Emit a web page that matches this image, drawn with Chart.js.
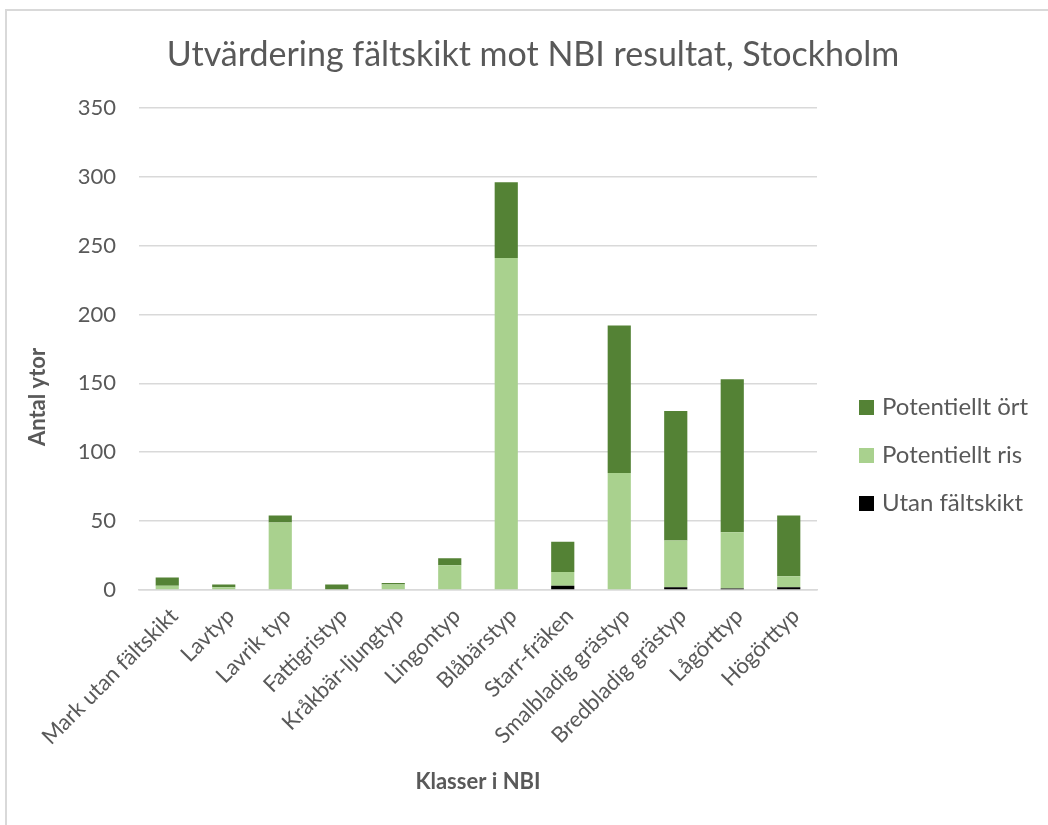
<!DOCTYPE html>
<html>
<head>
<meta charset="utf-8">
<script src="https://cdn.jsdelivr.net/npm/chart.js@4"></script>
<style>
  body { margin: 0; background: #fff; }
  #frame {
    position: absolute; left: 5px; top: 9px; width: 1043px; height: 816px;
    border-top: 2px solid #d9d9d9; border-left: 2px solid #d9d9d9;
  }
  #wrap { position: absolute; left: 0; top: 0; width: 1048px; height: 825px; }
</style>
</head>
<body>
<div id="frame"></div>
<div id="wrap"><canvas id="nbiChart" width="1048" height="825"></canvas></div>
<script>
const categories = ["Mark utan fältskikt", "Lavtyp", "Lavrik typ", "Fattigristyp", "Kråkbär-ljungtyp",
  "Lingontyp", "Blåbärstyp", "Starr-fräken", "Smalbladig grästyp", "Bredbladig grästyp", "Lågörttyp", "Högörttyp"];
const utanFaltskikt = [0, 0, 0, 0, 0, 0, 0, 3, 0, 2, 1, 2];
const potentielltRis = [3, 2, 49, 0, 4, 18, 241, 10, 85, 34, 41, 8];
const potentielltOrt = [6, 2, 5, 4, 1, 5, 55, 22, 107, 94, 111, 44];
const yTicks = [0, 50, 100, 150, 200, 250, 300, 350];

const textColor = "#595959";
const gridColor = "#d9d9d9";
const fontFamily = "Lato, 'Open Sans', sans-serif";

// legend and y axis title drawn by hand so they sit where Excel put them
const sideTexts = {
  id: "sideTexts",
  afterDraw(chart) {
    const ctx = chart.ctx;
    const items = chart.data.datasets.slice().reverse();
    ctx.save();
    ctx.font = "24px " + fontFamily;
    ctx.textBaseline = "middle";
    ctx.textAlign = "left";
    items.forEach((ds, i) => {
      const y = 407 + i * 48;
      ctx.fillStyle = ds.backgroundColor;
      ctx.fillRect(859, y - 7, 15, 15);
      ctx.fillStyle = textColor;
      ctx.fillText(ds.label, 882, y);
    });

    ctx.translate(38, 397);
    ctx.rotate(-Math.PI / 2);
    ctx.textAlign = "center";
    ctx.font = "bold 22px " + fontFamily;
    ctx.fillStyle = textColor;
    ctx.fillText("Antal ytor", 0, 0);
    ctx.restore();
  }
};

new Chart(document.getElementById("nbiChart"), {
  type: "bar",
  data: {
    labels: categories,
    datasets: [
      { label: "Utan fältskikt", data: utanFaltskikt, backgroundColor: "#000000" },
      { label: "Potentiellt ris", data: potentielltRis, backgroundColor: "#a9d18e" },
      { label: "Potentiellt ört", data: potentielltOrt, backgroundColor: "#548235" }
    ]
  },
  options: {
    responsive: false,
    animation: false,
    layout: { padding: { left: 18, right: 0, top: 0, bottom: 0 } },
    datasets: { bar: { barPercentage: 1, categoryPercentage: 0.41 } },
    plugins: {
      legend: { display: false },
      tooltip: { enabled: false },
      title: {
        display: true,
        text: "Utvärdering fältskikt mot NBI resultat, Stockholm",
        color: textColor,
        font: { family: fontFamily, size: 34, weight: "normal" },
        padding: { top: 35, bottom: 32 }
      }
    },
    scales: {
      x: {
        stacked: true,
        grid: { display: false, drawTicks: false },
        border: { display: true, color: gridColor, width: 1.5 },
        ticks: {
          color: textColor, font: { family: fontFamily, size: 22 },
          maxRotation: 45, minRotation: 45, autoSkip: false,
          padding: 13, labelOffset: 7
        },
        title: {
          display: true, text: "Klasser i NBI", color: textColor,
          font: { family: fontFamily, size: 22, weight: "bold" },
          padding: { top: 0, bottom: 30 }
        },
        afterFit(scale) { scale.height = 235; }
      },
      y: {
        stacked: true,
        min: 0, max: 350,
        grid: { color: gridColor, lineWidth: 1.5, drawTicks: false },
        border: { display: false },
        afterBuildTicks(scale) { scale.ticks = yTicks.map(v => ({ value: v })); },
        ticks: { color: textColor, font: { family: fontFamily, size: 22 }, padding: 23 },
        afterFit(scale) { scale.width = 121; }
      },
      // empty right-hand strip where the legend lives
      legendSpace: {
        type: "linear",
        position: "right",
        display: true,
        grid: { display: false },
        border: { display: false },
        ticks: { display: false },
        afterFit(scale) { scale.width = 231; }
      }
    }
  },
  plugins: [sideTexts]
});
</script>
</body>
</html>
